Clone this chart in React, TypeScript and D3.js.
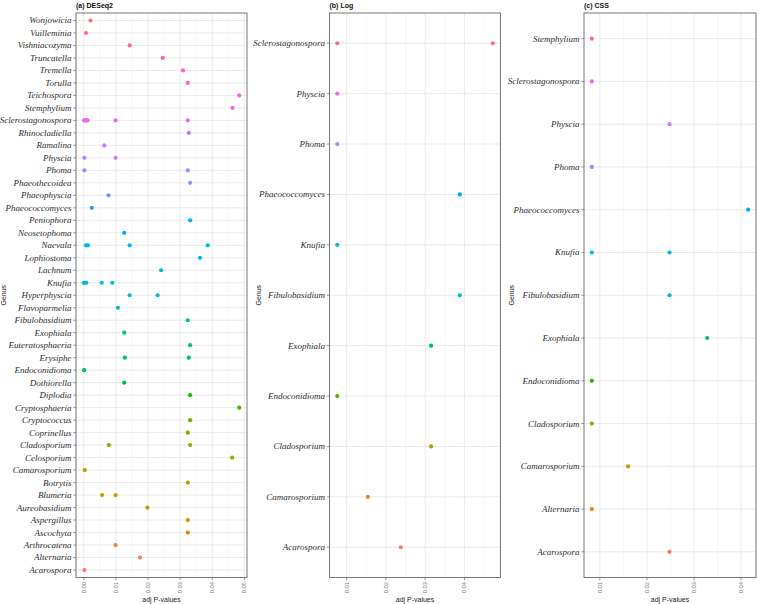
import React from "react";
import * as d3 from "d3";

// ---------- DATA ----------
const generaA = [
  "Acarospora", "Alternaria", "Arthrocatena", "Ascochyta", "Aspergillus", "Aureobasidium",
  "Blumeria", "Botrytis", "Camarosporium", "Celosporium", "Cladosporium", "Coprinellus",
  "Cryptococcus", "Cryptosphaeria", "Diplodia", "Dothiorella", "Endoconidioma", "Erysiphe",
  "Euteratosphaeria", "Exophiala", "Fibulobasidium", "Flavoparmelia", "Hyperphyscia", "Knufia",
  "Lachnum", "Lophiostoma", "Naevala", "Neosetophoma", "Peniophora", "Phaeococcomyces",
  "Phaeophyscia", "Phaeothecoidea", "Phoma", "Physcia", "Ramalina", "Rhinocladiella",
  "Sclerostagonospora", "Stemphylium", "Teichospora", "Torulla", "Tremella", "Truncatella",
  "Vishniacozyma", "Vuilleminia", "Wonjowicia",
];
const pvalsA = [
  [0.0002], [0.0175], [0.0099], [0.0324], [0.0324], [0.0198],
  [0.0057, 0.0099], [0.0324], [0.0003], [0.0462], [0.0078, 0.0331], [0.0324],
  [0.0331], [0.0484], [0.0331], [0.0126], [0.0001], [0.0128, 0.0327],
  [0.0331], [0.0126], [0.0324], [0.0106], [0.0143, 0.023], [0.0, 0.0003, 0.0008, 0.0056, 0.0089],
  [0.0241], [0.0362], [0.0007, 0.0013, 0.0143, 0.0386], [0.0126], [0.0331], [0.0025],
  [0.0077], [0.0331], [0.0002, 0.0324], [0.0002, 0.0099], [0.0064], [0.0327],
  [0.0001, 0.0004, 0.0008, 0.0012, 0.0099, 0.0324], [0.0463], [0.0484], [0.0324], [0.0309], [0.0246],
  [0.0143], [0.0007], [0.0021],
];
const ticksA = [0, 0.01, 0.02, 0.03, 0.04, 0.05];
const tickLabelsA = ["0.00", "0.01", "0.02", "0.03", "0.04", "0.05"];

const generaB = [
  "Acarospora", "Camarosporium", "Cladosporium", "Endoconidioma", "Exophiala", "Fibulobasidium",
  "Knufia", "Phaeococcomyces", "Phoma", "Physcia", "Sclerostagonospora",
];
const pvalsB = [
  [0.0238], [0.0154], [0.0315], [0.0076], [0.0315], [0.0388],
  [0.0076], [0.0388], [0.0076], [0.0076], [0.0076, 0.0472],
];
const ticksB = [0.01, 0.02, 0.03, 0.04];
const tickLabelsB = ["0.01", "0.02", "0.03", "0.04"];

const generaC = [
  "Acarospora", "Alternaria", "Camarosporium", "Cladosporium", "Endoconidioma", "Exophiala",
  "Fibulobasidium", "Knufia", "Phaeococcomyces", "Phoma", "Physcia", "Sclerostagonospora", "Stemphylium",
];
const pvalsC = [
  [0.0248], [0.0083], [0.016], [0.0083], [0.0083], [0.0328],
  [0.0248], [0.0083, 0.0248], [0.0415], [0.0083], [0.0248], [0.0083], [0.0083],
];
const ticksC = [0.01, 0.02, 0.03, 0.04];
const tickLabelsC = ["0.01", "0.02", "0.03", "0.04"];

const titles = ["(a) DESeq2", "(b) Log", "(c) CSS"];

// ---------- LAYOUT ----------
const W = 759;
const H = 604;
const TOP = 13;
const BOTTOM = 577.5;
const layout = [
  { left: 76, right: 247, genusX: 3.5 },
  { left: 329.5, right: 500.5, genusX: 258 },
  { left: 584, right: 756, genusX: 511.5 },
];

// ggplot-style hue palette (polar LUV)
function hclLuv(h: number, c: number, l: number): string {
  const hr = (h * Math.PI) / 180;
  const U = c * Math.cos(hr);
  const V = c * Math.sin(hr);
  const Xn = 0.95047, Yn = 1.0, Zn = 1.08883;
  const Y = l > 8 ? Yn * Math.pow((l + 16) / 116, 3) : (Yn * l) / 903.3;
  const den = Xn + 15 * Yn + 3 * Zn;
  const un = (4 * Xn) / den;
  const vn = (9 * Yn) / den;
  const u = U / (13 * l) + un;
  const v = V / (13 * l) + vn;
  const X = (9 * Y * u) / (4 * v);
  const Z = -X / 3 - 5 * Y + (3 * Y) / v;
  const lin = [
    3.2404542 * X - 1.5371385 * Y - 0.4985314 * Z,
    -0.969266 * X + 1.8760108 * Y + 0.041556 * Z,
    0.0556434 * X - 0.2040259 * Y + 1.0572252 * Z,
  ];
  const g = lin.map((t) => {
    const s = t <= 0.0031308 ? 12.92 * t : 1.055 * Math.pow(t, 1 / 2.4) - 0.055;
    return Math.round(Math.max(0, Math.min(1, s)) * 255);
  });
  return d3.rgb(g[0], g[1], g[2]).formatHex();
}
function huePal(n: number): string[] {
  return d3.range(n).map((i) => hclLuv(15 + (360 * i) / n, 100, 65));
}

type PanelProps = {
  idx: number;
  genera: string[];
  pvals: number[][];
  ticks: number[];
  tickLabels: string[];
};

function Panel({ idx, genera, pvals, ticks, tickLabels }: PanelProps) {
  const { left, right, genusX } = layout[idx];
  const all = pvals.flat();
  const [mn, mx] = d3.extent(all) as [number, number];
  const pad = (mx - mn) * 0.05;
  const x = d3.scaleLinear().domain([mn - pad, mx + pad]).range([left, right]);
  const y = d3.scalePoint<string>().domain(genera).range([BOTTOM, TOP]).padding(0.6);
  const colors = huePal(genera.length);
  const step = ticks[1] - ticks[0];
  const minor = d3
    .range(ticks[0] - step / 2, ticks[ticks.length - 1] + step, step)
    .filter((v) => v >= mn - pad && v <= mx + pad);
  const midY = (TOP + BOTTOM) / 2;
  return (
    <g>
      <rect x={left} y={TOP} width={right - left} height={BOTTOM - TOP} fill="#fff" />
      {minor.map((v, i) => (
        <line key={"mn" + i} x1={x(v)} x2={x(v)} y1={TOP} y2={BOTTOM} stroke="#efefef" strokeWidth={0.5} />
      ))}
      {ticks.map((v, i) => (
        <line key={"mj" + i} x1={x(v)} x2={x(v)} y1={TOP} y2={BOTTOM} stroke="#e4e4e4" strokeWidth={0.8} />
      ))}
      {genera.map((g) => (
        <line key={"hg" + g} x1={left} x2={right} y1={y(g)} y2={y(g)} stroke="#e4e4e4" strokeWidth={0.8} />
      ))}
      {genera.map((g, gi) =>
        pvals[gi].map((p, pi) => (
          <circle key={g + pi} cx={x(p)} cy={y(g)} r={2.1} fill={colors[gi]} />
        ))
      )}
      <rect x={left} y={TOP} width={right - left} height={BOTTOM - TOP} fill="none" stroke="#777" strokeWidth={1} />
      {genera.map((g) => (
        <g key={"yt" + g}>
          <line x1={left - 2.75} x2={left} y1={y(g)} y2={y(g)} stroke="#555" strokeWidth={0.6} />
          <text
            x={left - 4.5}
            y={y(g)}
            dy="0.33em"
            textAnchor="end"
            fontFamily="'Liberation Serif', 'Times New Roman', serif"
            fontStyle="italic"
            fontSize={9}
            fill="#2b2b2b"
          >
            {g}
          </text>
        </g>
      ))}
      {ticks.map((v, i) => (
        <g key={"xt" + i}>
          <line x1={x(v)} x2={x(v)} y1={BOTTOM} y2={BOTTOM + 2.75} stroke="#555" strokeWidth={0.6} />
          <text
            transform={`translate(${x(v)},${BOTTOM + 4.5}) rotate(-90)`}
            textAnchor="end"
            dominantBaseline="central"
            fontFamily="'Liberation Sans', Arial, sans-serif"
            fontSize={5.8}
            fill="#777"
          >
            {tickLabels[i]}
          </text>
        </g>
      ))}
      <text
        x={(left + right) / 2}
        y={601.5}
        textAnchor="middle"
        fontFamily="'Liberation Sans', Arial, sans-serif"
        fontSize={7}
        fill="#222"
      >
        adj P-values
      </text>
      <text
        transform={`translate(${genusX},${midY}) rotate(-90)`}
        textAnchor="middle"
        dominantBaseline="central"
        fontFamily="'Liberation Sans', Arial, sans-serif"
        fontSize={7}
        fill="#222"
      >
        Genus
      </text>
      <text
        x={left}
        y={8}
        fontFamily="'Liberation Sans', Arial, sans-serif"
        fontWeight="bold"
        fontSize={7}
        fill="#111"
      >
        {titles[idx]}
      </text>
    </g>
  );
}

export default function App() {
  return (
    <svg
      width={W}
      height={H}
      viewBox={`0 0 ${W} ${H}`}
      style={{ position: "absolute", left: 0, top: 0, background: "#fff" }}
    >
      <rect width={W} height={H} fill="#fff" />
      <Panel idx={0} genera={generaA} pvals={pvalsA} ticks={ticksA} tickLabels={tickLabelsA} />
      <Panel idx={1} genera={generaB} pvals={pvalsB} ticks={ticksB} tickLabels={tickLabelsB} />
      <Panel idx={2} genera={generaC} pvals={pvalsC} ticks={ticksC} tickLabels={tickLabelsC} />
    </svg>
  );
}
